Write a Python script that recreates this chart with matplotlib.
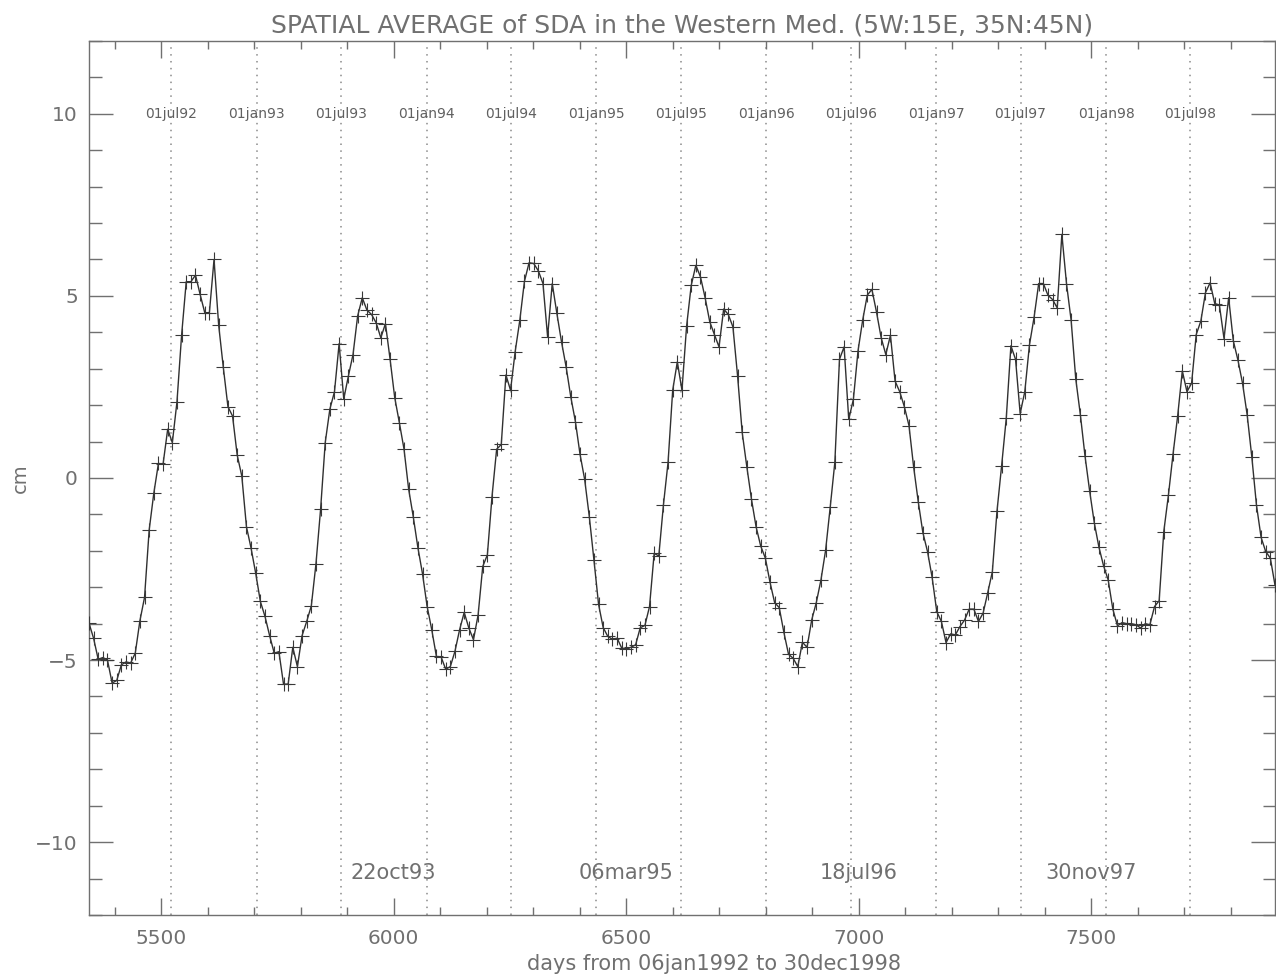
import numpy as np
import matplotlib.pyplot as plt
from matplotlib.ticker import MultipleLocator

# 海面高度异常(SDA)空间平均, 单位 cm, 每个周期(约10天)一个点
sda_seg1 = [-3.98, -4.40, -4.98, -4.93, -5.00, -5.63, -5.56, -5.13, -5.05, -5.08,
            -4.81, -3.92, -3.28, -1.43, -0.42, 0.40, 0.38, 1.34, 0.97, 2.09,
            3.92, 5.39, 5.39, 5.57, 5.04, 4.54, 4.54, 6.00, 4.20, 3.04,
            1.96, 1.70, 0.63, 0.05, -1.34, -1.93]
sda_seg2 = [-2.62, -3.39, -3.80, -4.33, -4.81, -4.77, -5.66, -5.66, -4.65, -5.18,
            -4.33, -3.94, -3.51, -2.36, -0.86, 0.97, 1.89, 2.37, 3.69, 2.17,
            2.80, 3.39, 4.45, 4.95, 4.61, 4.49, 4.26, 3.85, 4.24, 3.26,
            2.21, 1.52, 0.80]
sda_seg3 = [-0.30, -1.06, -1.91, -2.63, -3.53, -4.17, -4.90, -4.91, -5.25, -5.18,
            -4.76, -4.17, -3.69, -4.12, -4.44, -3.76, -2.43, -2.11, -0.51, 0.79,
            0.92, 2.83, 2.41, 3.47, 4.33, 5.40, 5.91, 5.89, 5.69, 5.34,
            3.88, 5.34, 4.52]
sda_seg4 = [3.74, 3.05, 2.23, 1.55, 0.65, -0.04, -1.06, -2.25, -3.47, -4.11,
            -4.35, -4.43, -4.40, -4.67, -4.69, -4.65, -4.58, -4.11, -4.05, -3.53,
            -2.07, -2.14, -0.74, 0.43, 2.41, 3.19, 2.41, 4.17, 5.29, 5.84,
            5.52, 4.95, 4.29]
sda_seg5 = [3.94, 3.60, 4.64, 4.49, 4.15, 2.81, 1.25, 0.31, -0.58, -1.34,
            -1.87, -2.20, -2.86, -3.42, -3.56, -4.24, -4.84, -4.95, -5.18, -4.51,
            -4.65, -3.90, -3.42, -2.80, -1.99, -0.80, 0.43, 3.26, 3.60, 1.61,
            2.16, 3.49, 4.33, 5.02]
sda_seg6 = [5.18, 4.55, 3.85, 3.39, 3.92, 2.66, 2.37, 1.96, 1.44, 0.31,
            -0.65, -1.50, -2.02, -2.73, -3.67, -3.94, -4.52, -4.28, -4.31, -4.08,
            -3.90, -3.60, -3.60, -3.94, -3.71, -3.15, -2.57, -0.91, 0.34, 1.64,
            3.63, 3.26]
sda_seg7 = [1.77, 2.37, 3.65, 4.41, 5.34, 5.34, 5.02, 4.90, 4.67, 6.69,
            5.34, 4.33, 2.72, 1.73, 0.60, -0.36, -1.23, -1.90, -2.41, -2.80,
            -3.60, -4.06, -3.97, -4.00, -4.00, -4.03, -4.12, -4.00, -4.03, -3.53,
            -3.37, -1.47, -0.47, 0.66, 1.71]
sda_seg8 = [2.94, 2.37, 2.60, 3.94, 4.31, 5.09, 5.36, 4.79, 4.75, 3.83,
            4.95, 3.77, 3.24, 2.60, 1.73, 0.58, -0.74, -1.63, -2.02, -2.20,
            -2.94]

# 时间范围: 06jan1992 对应第 5345 天, 30dec1998 对应第 7895 天
day_start = 5345
day_end = 7895
start_date = np.datetime64('1992-01-06')

# 竖直虚线对应的日期
mark_dates = ['1992-07-01', '1993-01-01', '1993-07-01', '1994-01-01', '1994-07-01',
              '1995-01-01', '1995-07-01', '1996-01-01', '1996-07-01', '1997-01-01',
              '1997-07-01', '1998-01-01', '1998-07-01']

x_major = [5500, 6000, 6500, 7000, 7500]
y_major = [-10, -5, 0, 5, 10]
date_ticks = [6000, 6500, 7000, 7500]  # 底部标注日期的位置

sda = np.array(sda_seg1 + sda_seg2 + sda_seg3 + sda_seg4 +
               sda_seg5 + sda_seg6 + sda_seg7 + sda_seg8)
days = np.linspace(day_start, day_end, len(sda))


def fmt_date(d):
    # 转换成 IDL 风格的 01jul92
    s = str(d)
    months = ['jan', 'feb', 'mar', 'apr', 'may', 'jun', 'jul', 'aug', 'sep', 'oct', 'nov', 'dec']
    return s[8:10] + months[int(s[5:7]) - 1] + s[2:4]


gray = '#707070'
fig = plt.figure(figsize=(12.76, 9.76), dpi=100)
ax = fig.add_axes([0.0697, 0.0625, 0.9295, 0.8955])

# 虚线和顶部日期
for d in mark_dates:
    x = day_start + (np.datetime64(d) - start_date).astype(int)
    ax.axvline(x, color='#8a8a8a', linestyle=(0, (1, 3.5)), linewidth=1.1, zorder=1)
    ax.text(x, 10, fmt_date(np.datetime64(d)), ha='center', va='center',
            fontsize=10, color='#606060', zorder=2)

# 底部日期
for t in date_ticks:
    d = start_date + np.timedelta64(t - day_start, 'D')
    ax.text(t, -10.85, fmt_date(d), ha='center', va='center', fontsize=15, color=gray)

# 曲线
ax.plot(days, sda, color='#303030', linewidth=1.0, marker='+', markersize=10,
        markeredgewidth=0.8, markeredgecolor='#383838', zorder=3)

ax.set_xlim(day_start, day_end)
ax.set_ylim(-12, 12)
ax.set_xticks(x_major)
ax.set_yticks(y_major)
ax.xaxis.set_minor_locator(MultipleLocator(100))
ax.yaxis.set_minor_locator(MultipleLocator(1))
ax.tick_params(which='both', direction='in', top=True, right=True, colors=gray,
               labelsize=14.5, width=1.0)
ax.tick_params(axis='x', which='major', length=12, pad=10)
ax.tick_params(axis='x', which='minor', length=6)
ax.tick_params(axis='y', which='major', length=17, pad=8)
ax.tick_params(axis='y', which='minor', length=9)
for sp in ax.spines.values():
    sp.set_color(gray)
    sp.set_linewidth(1.0)

ax.set_title('SPATIAL AVERAGE of SDA in the Western Med. (5W:15E, 35N:45N)',
             fontsize=18, color=gray, pad=6)
ax.set_xlabel('days from 06jan1992 to 30dec1998', fontsize=15, color=gray)
ax.xaxis.set_label_coords(0.527, -0.045)
ax.set_ylabel('cm', fontsize=14, color=gray)
ax.yaxis.set_label_coords(-0.05, 0.5)

plt.savefig('out.png', dpi=100)
